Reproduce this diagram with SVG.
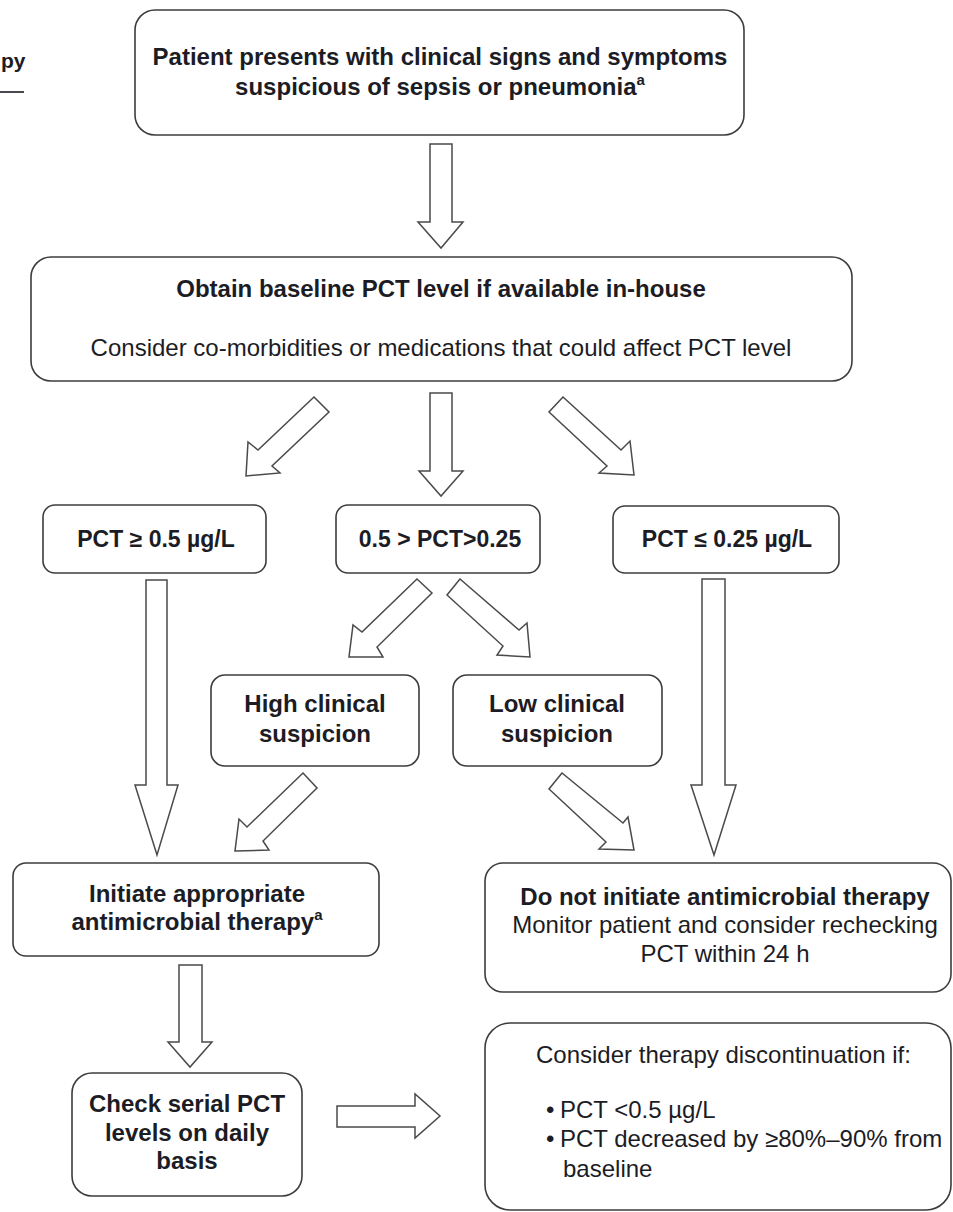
<svg xmlns="http://www.w3.org/2000/svg" width="953" height="1212" viewBox="0 0 953 1212">
<style>
.box{fill:#fff;stroke:#3c3c3c;stroke-width:1.6}
.arr{fill:#fff;stroke:#4a4a4a;stroke-width:1.5;stroke-linejoin:miter}
.b{font-family:"Liberation Sans",Arial,sans-serif;font-weight:bold;font-size:24px;fill:#1c1c24;text-anchor:middle}
.r{font-family:"Liberation Sans",Arial,sans-serif;font-weight:normal;font-size:24px;fill:#1c1c24;text-anchor:middle}
.s{font-size:15px}
</style>
<rect width="953" height="1212" fill="#fff"/>
<g id="title-fragment">
<text class="b" x="1" y="68" style="text-anchor:start;font-size:21px">py</text>
<line x1="0" y1="92" x2="24" y2="92" stroke="#1c1c24" stroke-width="1.6"/>
</g>
<g id="connectors">
<polygon class="arr" points="430,144 452,144 452,222 463,222 441,248 418,222 430,222"/>
<polygon class="arr" points="314,397 329,412 272,466 280,473 246,476 248,442 258,450"/>
<polygon class="arr" points="430,393 452,393 452,471 463,471 441,496 419,471 430,471"/>
<polygon class="arr" points="563,397 549,412 607,466 599,473 634,475 630,441 621,450"/>
<polygon class="arr" points="146,580 167,580 167,785 178,785 157,855 135,785 146,785"/>
<polygon class="arr" points="702,579 725,579 725,785 736,785 714,855 691,785 702,785"/>
<polygon class="arr" points="417,579 432,593 377,647 383,657 349,657 353,625 362,632"/>
<polygon class="arr" points="460,579 447,595 503,646 497,655 530,657 527,623 519,630"/>
<polygon class="arr" points="303,773 317,788 263,841 269,850 235,851 239,819 247,827"/>
<polygon class="arr" points="562,773 549,789 606,842 599,849 634,850 628,817 623,823"/>
<polygon class="arr" points="179,965 202,965 202,1042 212,1042 190,1067 168,1042 179,1042"/>
<polygon class="arr" points="337,1106 415,1106 415,1094 440,1116 415,1138 415,1127 337,1127"/>
</g>
<g id="node-present">
<rect class="box" x="135" y="10" width="609" height="125" rx="20"/>
<text class="b" x="440" y="65">Patient presents with clinical signs and symptoms</text>
<text class="b" x="440" y="95">suspicious of sepsis or pneumonia<tspan class="s" dy="-10">a</tspan></text>
</g>
<g id="node-baseline">
<rect class="box" x="31" y="257" width="821" height="124" rx="20"/>
<text class="b" x="441" y="297">Obtain baseline PCT level if available in-house</text>
<text class="r" x="441" y="356">Consider co-morbidities or medications that could affect PCT level</text>
</g>
<g id="node-high-pct">
<rect class="box" x="43" y="505" width="223" height="68" rx="12"/>
<text class="b" x="156" y="547" style="font-size:23px">PCT ≥ 0.5 µg/L</text>
</g>
<g id="node-mid-pct">
<rect class="box" x="336" y="505" width="204" height="68" rx="12"/>
<text class="b" x="440" y="547" style="font-size:23px">0.5 &gt; PCT&gt;0.25</text>
</g>
<g id="node-low-pct">
<rect class="box" x="613" y="506" width="226" height="67" rx="12"/>
<text class="b" x="727" y="547" style="font-size:23px">PCT ≤ 0.25 µg/L</text>
</g>
<g id="node-high-suspicion">
<rect class="box" x="211" y="675" width="208" height="91" rx="14"/>
<text class="b" x="315" y="712">High clinical</text>
<text class="b" x="315" y="742">suspicion</text>
</g>
<g id="node-low-suspicion">
<rect class="box" x="453" y="675" width="209" height="91" rx="14"/>
<text class="b" x="557" y="712">Low clinical</text>
<text class="b" x="557" y="742">suspicion</text>
</g>
<g id="node-initiate">
<rect class="box" x="13" y="863" width="366" height="93" rx="13"/>
<text class="b" x="197" y="902">Initiate appropriate</text>
<text class="b" x="197" y="930">antimicrobial therapy<tspan class="s" dy="-10">a</tspan></text>
</g>
<g id="node-do-not">
<rect class="box" x="485" y="863" width="466" height="129" rx="18"/>
<text class="b" x="725" y="905">Do not initiate antimicrobial therapy</text>
<text class="r" x="725" y="933">Monitor patient and consider rechecking</text>
<text class="r" x="725" y="962">PCT within 24 h</text>
</g>
<g id="node-check">
<rect class="box" x="72" y="1073" width="230" height="123" rx="20"/>
<text class="b" x="187" y="1112">Check serial PCT</text>
<text class="b" x="187" y="1141">levels on daily</text>
<text class="b" x="187" y="1169">basis</text>
</g>
<g id="node-discontinue">
<rect class="box" x="485" y="1023" width="466" height="187" rx="25"/>
<text class="r" x="536" y="1063" style="text-anchor:start">Consider therapy discontinuation if:</text>
<text class="r" x="546" y="1118" style="text-anchor:start">•</text>
<text class="r" x="560" y="1118" style="text-anchor:start">PCT &lt;0.5 µg/L</text>
<text class="r" x="546" y="1147" style="text-anchor:start">•</text>
<text class="r" x="560" y="1147" style="text-anchor:start">PCT decreased by ≥80%–90% from</text>
<text class="r" x="563" y="1177" style="text-anchor:start">baseline</text>
</g>
</svg>
